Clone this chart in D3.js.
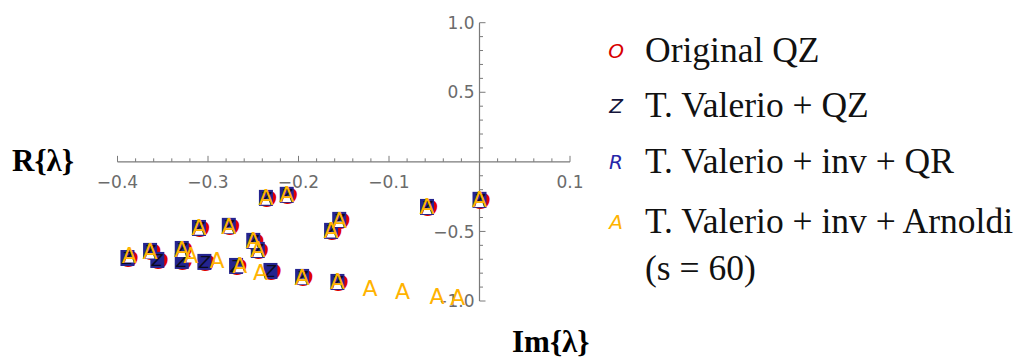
<!DOCTYPE html>
<html>
<head>
<meta charset="utf-8">
<script src="https://cdn.jsdelivr.net/npm/d3@7"></script>
<style>
  body { margin: 0; background: #fff; }
  .tick-label { font-family: "DejaVu Sans", sans-serif; font-size: 17px; fill: #6b6b6b; }
  .axis-title { font-family: "Liberation Serif", serif; font-weight: bold; font-size: 31px; fill: #000; }
  .legend-text { font-family: "Liberation Serif", serif; font-size: 35.5px; fill: #111; }
</style>
</head>
<body>
<script>
// eigenvalues, [x, y]
var originalQZ = [
  [0.000, -0.273], [-0.058, -0.324], [-0.155, -0.417], [-0.164, -0.496],
  [-0.213, -0.237], [-0.236, -0.259], [-0.277, -0.460], [-0.310, -0.475],
  [-0.250, -0.568], [-0.245, -0.633], [-0.389, -0.691], [-0.364, -0.640],
  [-0.356, -0.705], [-0.329, -0.626], [-0.329, -0.712], [-0.304, -0.719],
  [-0.269, -0.748], [-0.231, -0.784], [-0.196, -0.827], [-0.157, -0.863]
];
var valerioQZ = [
  [0.000, -0.273], [-0.058, -0.324], [-0.155, -0.417], [-0.164, -0.496],
  [-0.213, -0.237], [-0.236, -0.259], [-0.277, -0.460], [-0.310, -0.475],
  [-0.250, -0.568], [-0.245, -0.633], [-0.389, -0.691], [-0.364, -0.640],
  [-0.356, -0.705], [-0.329, -0.626], [-0.329, -0.712], [-0.304, -0.719],
  [-0.269, -0.748], [-0.231, -0.784], [-0.196, -0.827], [-0.157, -0.863]
];
var valerioInvQR = [
  [0.000, -0.273], [-0.058, -0.324], [-0.155, -0.417], [-0.164, -0.496],
  [-0.213, -0.237], [-0.236, -0.259], [-0.277, -0.460], [-0.310, -0.475],
  [-0.250, -0.568], [-0.245, -0.633], [-0.389, -0.691], [-0.364, -0.640],
  [-0.356, -0.705], [-0.329, -0.626], [-0.329, -0.712], [-0.304, -0.719],
  [-0.269, -0.748], [-0.231, -0.784], [-0.196, -0.827], [-0.157, -0.863]
];
var valerioArnoldi = [
  [0.000, -0.270], [-0.058, -0.320], [-0.155, -0.415], [-0.164, -0.490],
  [-0.213, -0.235], [-0.236, -0.255], [-0.277, -0.460], [-0.310, -0.470],
  [-0.250, -0.565], [-0.245, -0.630], [-0.387, -0.670], [-0.364, -0.640],
  [-0.329, -0.630], [-0.319, -0.670], [-0.290, -0.705], [-0.265, -0.740],
  [-0.242, -0.790], [-0.196, -0.825], [-0.157, -0.860],
  [-0.121, -0.906], [-0.085, -0.928], [-0.047, -0.964], [-0.024, -0.971]
];

var xMajor = [-0.4, -0.3, -0.2, -0.1, 0.1];
var yMajor = [-1.0, -0.5, 0.5, 1.0];
var legendLabels = ["Original QZ", "T. Valerio + QZ", "T. Valerio + inv + QR", "T. Valerio + inv + Arnoldi", "(s = 60)"];
var legendMarks = ["O", "Z", "R", "A", ""];
var legendColors = ["#d80000", "#15153a", "#2626a8", "#ffb300", "none"];

var width = 1019, height = 361;

var x = d3.scaleLinear().domain([-0.4, 0.1]).range([117.5, 570]);
var y = d3.scaleLinear().domain([-1, 1]).range([301, 22.7]);
var fmt = d3.format(".1f");

var svg = d3.select("body").append("svg")
    .attr("width", width)
    .attr("height", height);

var axisColor = "#7a7a7a";

// axes lines
svg.append("line")
    .attr("x1", x(-0.4)).attr("x2", x(0.1))
    .attr("y1", y(0)).attr("y2", y(0))
    .attr("stroke", axisColor).attr("stroke-width", 1.2);
svg.append("line")
    .attr("x1", x(0)).attr("x2", x(0))
    .attr("y1", y(-1)).attr("y2", y(1))
    .attr("stroke", axisColor).attr("stroke-width", 1.2);

// x ticks (drawn upward)
var xMinor = d3.range(-0.4, 0.1001, 0.02).filter(function(v) { return Math.abs(v) > 1e-9; });
svg.selectAll(".xtick").data(xMinor).enter().append("line")
    .attr("x1", function(d) { return x(d); }).attr("x2", function(d) { return x(d); })
    .attr("y1", y(0))
    .attr("y2", function(d) {
      var major = xMajor.some(function(m) { return Math.abs(m - d) < 1e-9; });
      return y(0) - (major ? 6 : 3.5);
    })
    .attr("stroke", axisColor).attr("stroke-width", 1);

svg.selectAll(".xlabel").data(xMajor).enter().append("text")
    .attr("class", "tick-label")
    .attr("x", function(d) { return x(d); })
    .attr("y", y(0) + 26)
    .attr("text-anchor", "middle")
    .text(function(d) { return fmt(d); });

// y ticks (drawn to the right)
var yMinor = d3.range(-1, 1.0001, 0.1).filter(function(v) { return Math.abs(v) > 1e-9; });
svg.selectAll(".ytick").data(yMinor).enter().append("line")
    .attr("y1", function(d) { return y(d); }).attr("y2", function(d) { return y(d); })
    .attr("x1", x(0))
    .attr("x2", function(d) {
      var major = yMajor.some(function(m) { return Math.abs(m - d) < 1e-9; });
      return x(0) + (major ? 6 : 3.5);
    })
    .attr("stroke", axisColor).attr("stroke-width", 1);

svg.selectAll(".ylabel").data(yMajor).enter().append("text")
    .attr("class", "tick-label")
    .attr("x", x(0) - 5)
    .attr("y", function(d) { return y(d); })
    .attr("dy", "0.36em")
    .attr("text-anchor", "end")
    .text(function(d) { return fmt(d); });

// axis titles
svg.append("text").attr("class", "axis-title")
    .attr("x", 12).attr("y", 171)
    .text("R{λ}");
svg.append("text").attr("class", "axis-title")
    .attr("x", 512).attr("y", 352)
    .text("Im{λ}");

// markers
var marks = svg.append("g");

marks.selectAll(".mo").data(originalQZ).enter().append("text")
    .attr("x", function(d) { return x(d[0]) + 2; })
    .attr("y", function(d) { return y(d[1]) + 1.5; })
    .attr("dy", "0.36em")
    .attr("text-anchor", "middle")
    .style("font-family", "DejaVu Sans, sans-serif")
    .style("font-style", "italic")
    .style("font-weight", "bold")
    .style("font-size", "21px")
    .style("fill", "#e00000")
    .text("O");

marks.selectAll(".mr").data(valerioInvQR).enter().append("rect")
    .attr("x", function(d) { return x(d[0]) - 7; })
    .attr("y", function(d) { return y(d[1]) - 8; })
    .attr("width", 14)
    .attr("height", 16)
    .style("fill", "#24248f");

marks.selectAll(".mz").data(valerioQZ).enter().append("text")
    .attr("x", function(d) { return x(d[0]); })
    .attr("y", function(d) { return y(d[1]); })
    .attr("dy", "0.36em")
    .attr("text-anchor", "middle")
    .style("font-family", "DejaVu Sans, sans-serif")
    .style("font-style", "italic")
    .style("font-size", "16px")
    .style("fill", "#0b0b20")
    .text("Z");

var arn = marks.selectAll(".ma").data(valerioArnoldi).enter().append("g")
    .attr("transform", function(d) { return "translate(" + x(d[0]) + "," + y(d[1]) + ")"; });

arn.append("path")
    .attr("d", "M-4.5,7.5 L4.5,7.5 L2.5,2 L-2.5,2 Z")
    .style("fill", "#fff");

arn.append("text")
    .attr("dy", "0.36em")
    .attr("text-anchor", "middle")
    .style("font-family", "DejaVu Sans, sans-serif")
    .style("font-size", "22px")
    .style("fill", "#ffb300")
    .text("A");

// legend
var rowY = [61.7, 116.7, 173, 233, 280];
var legend = svg.selectAll(".legend").data(legendLabels).enter().append("g")
    .attr("transform", function(d, i) { return "translate(0," + rowY[i] + ")"; });

legend.append("text")
    .attr("x", 616)
    .attr("y", -4)
    .attr("text-anchor", "middle")
    .style("font-family", "DejaVu Sans, sans-serif")
    .style("font-style", "italic")
    .style("font-size", "20px")
    .style("fill", function(d, i) { return legendColors[i]; })
    .text(function(d, i) { return legendMarks[i]; });

legend.append("text")
    .attr("class", "legend-text")
    .attr("x", 645)
    .attr("y", 0)
    .text(function(d) { return d; });
</script>
</body>
</html>
